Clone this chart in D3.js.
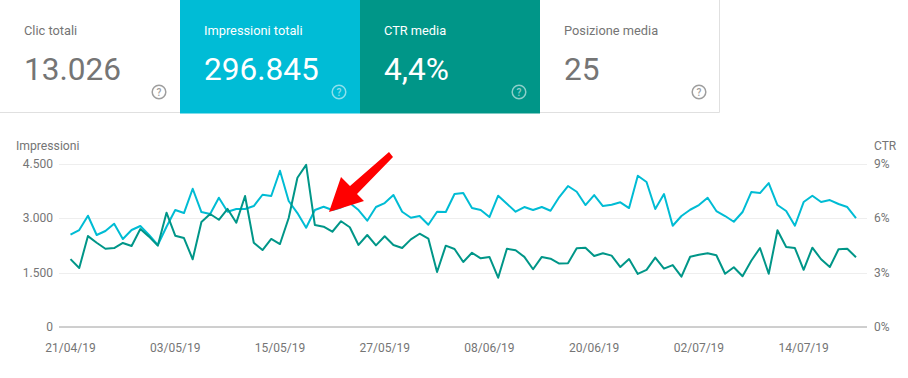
<!DOCTYPE html>
<html><head><meta charset="utf-8">
<script src="https://cdn.jsdelivr.net/npm/d3@7"></script>
<style>html,body{margin:0;padding:0;background:#fff}svg{display:block;font-family:Roboto,sans-serif}</style>
</head><body><svg id="c" width="908" height="378"></svg>
<script>
const cardTitles=["Clic totali","Impressioni totali","CTR media","Posizione media"];
const cardValues=["13.026","296.845","4,4%","25"];
const cardFills=["#ffffff","#00bcd6","#009688","#ffffff"];
const startDate="2019-04-21";
const dateTicks=["21/04/19","03/05/19","15/05/19","27/05/19","08/06/19","20/06/19","02/07/19","14/07/19"];
const impressionTicks=[0,1500,3000,4500];
const ctrTicks=[0,3,6,9];
const impressions=[2547,2677,3072,2539,2650,2851,2429,2677,2788,2539,2263,2768,3229,3146,3817,3174,3119,3569,3182,3257,3257,3340,3651,3616,4314,3478,3146,2741,3229,3320,3229,3300,3422,3229,2934,3312,3422,3643,3182,3017,3064,2823,3182,3174,3671,3698,3284,3229,3036,3624,3403,3182,3312,3229,3312,3210,3588,3892,3734,3367,3643,3340,3375,3442,3284,4176,4002,3257,3671,2796,3064,3237,3367,3569,3202,3064,2906,3174,3726,3698,3974,3367,3202,2796,3450,3624,3450,3505,3395,3312,3008];
const ctr=[3.75,3.26,5.02,4.65,4.32,4.36,4.64,4.47,5.41,4.99,4.49,6.31,5.04,4.91,3.74,5.80,6.24,5.92,6.52,5.76,7.23,4.65,4.25,4.86,4.58,6.02,8.24,8.95,5.63,5.54,5.26,5.84,5.51,4.53,5.08,4.51,5.01,4.53,4.36,4.84,5.15,4.88,3.04,4.49,4.31,3.59,4.10,3.79,3.87,2.72,4.32,4.24,3.87,3.19,3.87,3.77,3.50,3.52,4.35,4.38,3.92,4.07,3.94,3.31,3.75,2.93,3.15,3.83,3.22,3.42,2.78,3.88,3.99,4.07,3.96,2.94,3.30,2.80,3.66,4.36,2.94,5.34,4.42,4.36,3.16,4.38,3.74,3.31,4.29,4.32,3.85];

const svg=d3.select("#c");
const parse=d3.utcParse("%Y-%m-%d"), fmtD=d3.utcParse("%d/%m/%y");
const t0=parse(startDate);
const dates=impressions.map((_,i)=>d3.utcDay.offset(t0,i));
const x=d3.scaleUtc().domain([t0,dates[dates.length-1]]).range([70.5,856]);
const yL=d3.scaleLinear().domain([0,4500]).range([327,164]);
const yR=d3.scaleLinear().domain([0,9]).range([327,164]);

// cards
const cw=d3.scaleBand().domain(cardTitles).range([0,720]);
const cards=svg.selectAll("g.card").data(cardTitles).join("g").attr("class","card")
 .attr("transform",d=>`translate(${cw(d)},0)`);
cards.append("rect").attr("width",180).attr("height",113.5).attr("fill",(d,i)=>cardFills[i]);
const dark=i=>cardFills[i]==="#ffffff";
cards.append("text").attr("x",24).attr("y",35).attr("font-size",12.8)
 .attr("fill",(d,i)=>dark(i)?"#757575":"#fff").text(d=>d);
cards.append("text").attr("x",24).attr("y",80).attr("font-size",31.6)
 .attr("fill",(d,i)=>dark(i)?"#757575":"#fff").text((d,i)=>cardValues[i]);
const ic=cards.append("g").attr("transform","translate(159,92)")
 .attr("opacity",(d,i)=>dark(i)?1:0.55);
ic.append("circle").attr("r",6.8).attr("fill","none").attr("stroke-width",1.5)
 .attr("stroke",(d,i)=>dark(i)?"#9e9e9e":"#fff");
ic.append("text").attr("text-anchor","middle").attr("y",3.6).attr("font-size",10).attr("font-weight",500)
 .attr("fill",(d,i)=>dark(i)?"#9e9e9e":"#fff").text("?");
svg.append("path").attr("d","M0 112.5H180M540 112.5H719.5V0").attr("fill","none").attr("stroke","#e0e0e0").attr("stroke-width",1);

// grid
svg.append("g").selectAll("line").data(impressionTicks.filter(d=>d>0)).join("line")
 .attr("x1",59).attr("x2",867).attr("y1",d=>Math.round(yL(d))+.5).attr("y2",d=>Math.round(yL(d))+.5)
 .attr("stroke","#eeeeee").attr("stroke-width",1);
svg.append("line").attr("x1",59).attr("x2",867).attr("y1",327).attr("y2",327).attr("stroke","#9e9e9e").attr("stroke-width",1);

// axes
const tc="#757575";
const axL=d3.axisLeft(yL).tickValues(impressionTicks).tickSize(0).tickPadding(0)
 .tickFormat(d=>d3.format(",")(d).replace(",","."));
const gL=svg.append("g").attr("transform","translate(53,-0.5)").call(axL);
const axR=d3.axisRight(yR).tickValues(ctrTicks).tickSize(0).tickPadding(0).tickFormat(d=>d+"%");
const gR=svg.append("g").attr("transform","translate(874,-0.5)").call(axR);
const axB=d3.axisBottom(x).tickValues(dateTicks.map(fmtD)).tickSize(0).tickPadding(0)
 .tickFormat(d3.utcFormat("%d/%m/%y"));
const gB=svg.append("g").attr("transform","translate(-0.5,343)").call(axB);
[gL,gR,gB].forEach(g=>{g.select(".domain").remove();
 g.selectAll("text").attr("font-family","Roboto,sans-serif").attr("font-size",12).attr("fill",tc);});
gB.selectAll("text").attr("dy","0.71em").attr("y",0);
svg.append("text").attr("x",16).attr("y",150).attr("font-size",12.2).attr("fill",tc).text("Impressioni");
svg.append("text").attr("x",874).attr("y",150).attr("font-size",12).attr("fill",tc).text("CTR");

// lines
const lineI=d3.line().x((d,i)=>x(dates[i])).y(d=>yL(d));
const lineC=d3.line().x((d,i)=>x(dates[i])).y(d=>yR(d));
svg.append("path").attr("d",lineI(impressions)).attr("fill","none").attr("stroke","#00bcd4").attr("stroke-width",2).attr("stroke-linejoin","round");
svg.append("path").attr("d",lineC(ctr)).attr("fill","none").attr("stroke","#009688").attr("stroke-width",2).attr("stroke-linejoin","round");

// annotation arrow
svg.append("path").attr("d","M389 152L393 157L357 194L364 201L329 212L341 177L350 186Z").attr("fill","#ff0000");
</script></body></html>
